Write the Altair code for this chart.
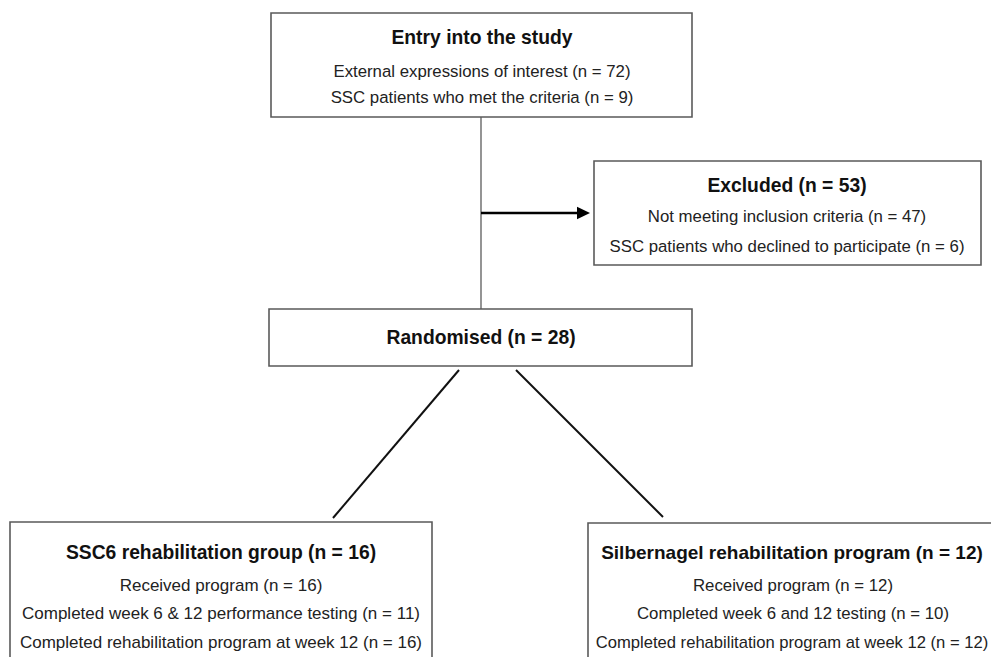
import altair as alt
import pandas as pd

# ---- content ----
box_names = ["entry", "excluded", "randomised", "ssc6", "silbernagel"]
box_x1 = [271, 594, 269, 10, 588]
box_x2 = [692, 981, 692, 432, 1010]
box_y1 = [13, 161, 309, 522, 523]
box_y2 = [117, 265, 366, 720, 720]

titles = [
    "Entry into the study",
    "Excluded (n = 53)",
    "Randomised (n = 28)",
    "SSC6 rehabilitation group (n = 16)",
    "Silbernagel rehabilitation program (n = 12)",
]
title_x = [482, 787, 481, 221, 792]
title_y = [38, 186, 338, 553, 553]
title_size = [19.3, 19.3, 19.3, 19.3, 19.0]

lines_text = [
    "External expressions of interest (n = 72)",
    "SSC patients who met the criteria (n = 9)",
    "Not meeting inclusion criteria (n = 47)",
    "SSC patients who declined to participate (n = 6)",
    "Received program (n = 16)",
    "Completed week 6 & 12 performance testing (n = 11)",
    "Completed rehabilitation program at week 12 (n = 16)",
    "Received program (n = 12)",
    "Completed week 6 and 12 testing (n = 10)",
    "Completed rehabilitation program at week 12 (n = 12)",
]
lines_x = [482, 482, 787, 787, 221, 221, 221, 793, 793, 792]
lines_y = [72, 98, 217, 247, 586, 614, 643, 586, 614, 643]
lines_size = [16.8, 16.8, 16.8, 16.8, 17, 17, 17, 16.8, 16.8, 16.6]

# connectors
conn_x1 = [481, 481, 459, 516]
conn_y1 = [117, 213, 370, 370]
conn_x2 = [481, 580, 333, 663]
conn_y2 = [309, 213, 518, 517]
conn_color = ["#7a7a7a", "#000000", "#111111", "#111111"]
conn_width = [1.6, 2.6, 2.0, 2.0]

arrow_x = [583.5]
arrow_y = [213]

W, H = 983, 649
xs = alt.Scale(domain=[8, 8 + W], nice=False, zero=False)
ys = alt.Scale(domain=[8, 8 + H], nice=False, zero=False, reverse=True)

boxes = pd.DataFrame(dict(name=box_names, x=box_x1, x2=box_x2, y=box_y1, y2=box_y2))
tdf = pd.DataFrame(dict(text=titles, x=title_x, y=title_y, size=title_size))
ldf = pd.DataFrame(dict(text=lines_text, x=lines_x, y=lines_y, size=lines_size))
cdf = pd.DataFrame(dict(x=conn_x1, y=conn_y1, x2=conn_x2, y2=conn_y2, c=conn_color, w=conn_width))
adf = pd.DataFrame(dict(x=arrow_x, y=arrow_y))

X = lambda f: alt.X(f, type="quantitative", scale=xs, axis=None)
Y = lambda f: alt.Y(f, type="quantitative", scale=ys, axis=None)

conn = alt.Chart(cdf).mark_rule().encode(
    x=X("x"), y=Y("y"), x2="x2", y2="y2",
    color=alt.Color("c:N", scale=None),
    strokeWidth=alt.StrokeWidth("w:Q", scale=None),
)

arrow = alt.Chart(adf).mark_point(
    shape="M-1,-0.95L1,0L-1,0.95Z", filled=True, fill="#000000", opacity=1, size=169, strokeWidth=0
).encode(x=X("x"), y=Y("y"))

rects = alt.Chart(boxes).mark_rect(
    fill="white", stroke="#5a5a5a", strokeWidth=1.6
).encode(x=X("x"), x2="x2", y=Y("y"), y2="y2")

ttl = alt.Chart(tdf).mark_text(
    font="Liberation Sans", fontWeight="bold", color="#111111", align="center", baseline="middle"
).encode(x=X("x"), y=Y("y"), text="text:N", size=alt.Size("size:Q", scale=None))

lns = alt.Chart(ldf).mark_text(
    font="Liberation Sans", color="#222222", align="center", baseline="middle"
).encode(x=X("x"), y=Y("y"), text="text:N", size=alt.Size("size:Q", scale=None))

chart = alt.layer(conn, arrow, rects, ttl, lns).properties(
    width=W, height=H, padding=0, background="white",
    autosize=alt.AutoSizeParams(type="none")
).configure_view(stroke=None)

chart.save("out.html", embed_options={"renderer": "svg", "actions": False})
